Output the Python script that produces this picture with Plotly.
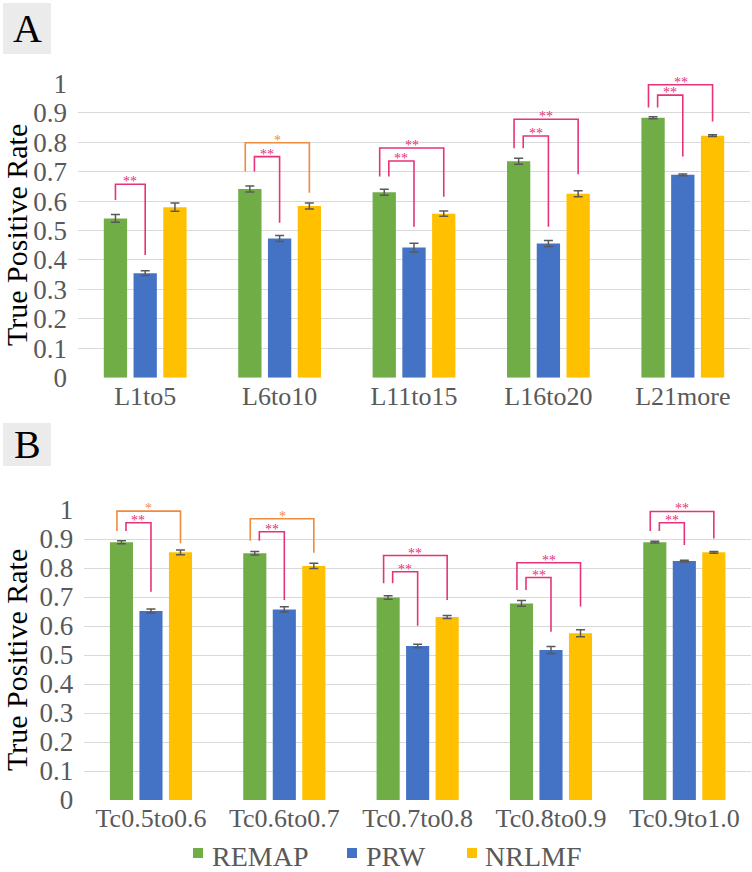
import plotly.graph_objects as go

# ---------------- data ----------------
series = ["REMAP", "PRW", "NRLMF"]
colors = ["#70AD47", "#4472C4", "#FFC000"]

cats_A = ["L1to5", "L6to10", "L11to15", "L16to20", "L21more"]
remap_A = [0.541, 0.641, 0.630, 0.735, 0.883]
remap_A_err = [0.013, 0.010, 0.010, 0.010, 0.003]
prw_A = [0.355, 0.473, 0.442, 0.456, 0.689]
prw_A_err = [0.008, 0.010, 0.015, 0.010, 0.003]
nrlmf_A = [0.579, 0.583, 0.557, 0.625, 0.822]
nrlmf_A_err = [0.014, 0.010, 0.009, 0.010, 0.003]

cats_B = ["Tc0.5to0.6", "Tc0.6to0.7", "Tc0.7to0.8", "Tc0.8to0.9", "Tc0.9to1.0"]
remap_B = [0.889, 0.851, 0.698, 0.678, 0.889]
remap_B_err = [0.005, 0.006, 0.006, 0.010, 0.003]
prw_B = [0.652, 0.657, 0.531, 0.517, 0.824]
prw_B_err = [0.007, 0.009, 0.006, 0.012, 0.003]
nrlmf_B = [0.854, 0.807, 0.631, 0.575, 0.854]
nrlmf_B_err = [0.008, 0.009, 0.005, 0.012, 0.003]

y_ticks = [0, 0.1, 0.2, 0.3, 0.4, 0.5, 0.6, 0.7, 0.8, 0.9, 1]
y_ticklabels = ["0", "0.1", "0.2", "0.3", "0.4", "0.5", "0.6", "0.7", "0.8", "0.9", "1"]

# significance brackets: category, from-series, to-series,
# leg bottom (from), bracket top, leg bottom (to), label, kind
brA_cat = [0, 1, 1, 2, 2, 3, 3, 4, 4]
brA_from = [0, 0, 0, 0, 0, 0, 0, 0, 0]
brA_to = [1, 2, 1, 2, 1, 2, 1, 2, 1]
brA_y0 = [0.604, 0.700, 0.700, 0.683, 0.683, 0.779, 0.779, 0.918, 0.918]
brA_top = [0.657, 0.798, 0.751, 0.780, 0.736, 0.878, 0.821, 0.995, 0.960]
brA_y1 = [0.417, 0.628, 0.526, 0.615, 0.513, 0.691, 0.513, 0.870, 0.751]
brA_label = ["**", "*", "**", "**", "**", "**", "**", "**", "**"]
brA_kind = ["single", "outer", "inner", "outer", "inner", "outer", "inner", "outer", "inner"]

brB_cat = [0, 0, 1, 1, 2, 2, 3, 3, 4, 4]
brB_from = [0, 0, 0, 0, 0, 0, 0, 0, 0, 0]
brB_to = [2, 1, 2, 1, 2, 1, 2, 1, 2, 1]
brB_y0 = [0.928, 0.928, 0.894, 0.894, 0.747, 0.747, 0.724, 0.724, 0.928, 0.928]
brB_top = [0.996, 0.956, 0.970, 0.925, 0.843, 0.787, 0.818, 0.767, 0.995, 0.956]
brB_y1 = [0.885, 0.718, 0.853, 0.690, 0.690, 0.601, 0.667, 0.580, 0.902, 0.879]
brB_label = ["*", "**", "*", "**", "**", "**", "**", "**", "**", "**"]
brB_kind = ["outer", "inner", "outer", "inner", "outer", "inner", "outer", "inner", "outer", "inner"]

PINK = "#E6337A"
ORANGE = "#F08A3C"
GRAY = "#595959"
FONT = "Liberation Serif"

BARGAP = 0.336
BARGROUPGAP = 0.217
SLOT = (1 - BARGAP) / 3
LEG_OFF = 0.034

fig = go.Figure()

panels = [
    ("x", "y", cats_A, [remap_A, prw_A, nrlmf_A], [remap_A_err, prw_A_err, nrlmf_A_err]),
    ("x2", "y2", cats_B, [remap_B, prw_B, nrlmf_B], [remap_B_err, prw_B_err, nrlmf_B_err]),
]
for xa, ya, cats, vals, errs in panels:
    for i, name in enumerate(series):
        fig.add_trace(go.Bar(
            x=cats, y=vals[i], name=name, marker=dict(color=colors[i], line=dict(width=0)),
            error_y=dict(type="data", array=errs[i], visible=True, color=GRAY,
                         thickness=1.5, width=4.5),
            xaxis=xa, yaxis=ya, showlegend=False,
        ))

shapes = []
annotations = []


def add_brackets(xref, yref, cat, frm, to, y0, top, y1, label, kind):
    for c, f, t, a, tp, b, lab, k in zip(cat, frm, to, y0, top, y1, label, kind):
        xf = c + (f - 1) * SLOT
        xt = c + (t - 1) * SLOT
        if k == "outer":
            xf -= LEG_OFF
        elif k == "inner":
            xf += LEG_OFF
        col = ORANGE if lab == "*" else PINK
        shapes.append(dict(
            type="path", xref=xref, yref=yref,
            path=f"M {xf},{a} L {xf},{tp} L {xt},{tp} L {xt},{b}",
            line=dict(color=col, width=1.6),
        ))
        annotations.append(dict(
            x=(xf + xt) / 2, y=tp, xref=xref, yref=yref, text=lab, showarrow=False,
            xanchor="center", yanchor="bottom", yshift=-7,
            font=dict(family=FONT, size=14, color=col),
        ))


add_brackets("x", "y", brA_cat, brA_from, brA_to, brA_y0, brA_top, brA_y1, brA_label, brA_kind)
add_brackets("x2", "y2", brB_cat, brB_from, brB_to, brB_y0, brB_top, brB_y1, brB_label, brB_kind)

W, H = 752, 872
# panel letters
for letter, (top, bot) in zip(["A", "B"], [(3, 54), (423, 466)]):
    shapes.append(dict(type="rect", xref="paper", yref="paper",
                       x0=3 / W, x1=51 / W, y0=1 - bot / H, y1=1 - top / H,
                       fillcolor="#EBEBEB", line=dict(width=0), layer="below"))
    annotations.append(dict(x=27 / W, y=1 - (top + bot) / 2 / H, xref="paper", yref="paper",
                            text=letter, showarrow=False, xanchor="center", yanchor="middle",
                            font=dict(family=FONT, size=40, color="#000000")))

# y axis titles
for yc in [235, 660]:
    annotations.append(dict(x=16 / W, y=1 - yc / H, xref="paper", yref="paper",
                            text="True Positive Rate", showarrow=False, textangle=-90,
                            xanchor="center", yanchor="middle",
                            font=dict(family=FONT, size=30, color="#000000")))

# legend (square swatch + label), laid out in pixels
legend_sq_x = [193, 347, 467]
legend_txt_x = [210, 364, 483]
for name, col, sx, tx in zip(series, colors, legend_sq_x, legend_txt_x):
    shapes.append(dict(type="rect", xref="paper", yref="paper",
                       x0=sx / W, x1=(sx + 10) / W, y0=1 - 858 / H, y1=1 - 848 / H,
                       fillcolor=col, line=dict(width=0)))
    annotations.append(dict(x=tx / W, y=1 - 856 / H, xref="paper", yref="paper",
                            text=name, showarrow=False, xanchor="left", yanchor="middle",
                            font=dict(family=FONT, size=28, color=GRAY)))

xaxis_common = dict(type="category", showgrid=False, showline=False, zeroline=False,
                    ticks="", automargin=False,
                    tickfont=dict(family=FONT, size=26, color=GRAY))
yaxis_common = dict(range=[0, 1], tickvals=y_ticks, ticktext=y_ticklabels,
                    showgrid=True, gridcolor="#D9D9D9", gridwidth=1.3, automargin=False,
                    zeroline=False, showline=False, ticks="",
                    tickfont=dict(family=FONT, size=27, color=GRAY), ticklabelstandoff=10)

fig.update_layout(
    width=W, height=H,
    margin=dict(l=0, r=0, t=0, b=0, autoexpand=False),
    paper_bgcolor="white", plot_bgcolor="white",
    barmode="group", bargap=BARGAP, bargroupgap=BARGROUPGAP,
    xaxis=dict(domain=[78 / W, 750 / W], anchor="y", **xaxis_common),
    yaxis=dict(domain=[1 - 377.7 / H, 1 - 83.3 / H], anchor="x", **yaxis_common),
    xaxis2=dict(domain=[84.3 / W, 751 / W], anchor="y2", **xaxis_common),
    yaxis2=dict(domain=[1 - 800 / H, 1 - 510 / H], anchor="x2", **yaxis_common),
    shapes=shapes,
    annotations=annotations,
    showlegend=False,
    font=dict(family=FONT),
)

fig.write_html("out.html", config={"displayModeBar": False},
               post_script="document.body.style.margin='0px';document.body.style.overflow='hidden';")
